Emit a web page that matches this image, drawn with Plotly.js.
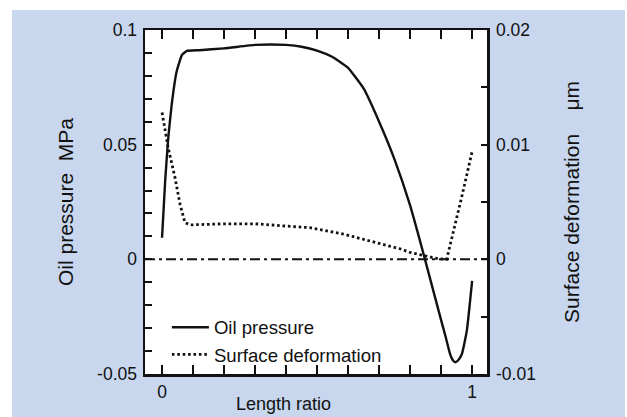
<!DOCTYPE html>
<html>
<head>
<meta charset="utf-8">
<script src="https://cdn.plot.ly/plotly-3.0.1.min.js"></script>
<style>html,body{margin:0;padding:0;background:#fff;}</style>
</head>
<body>
<div id="chart" style="width:627px;height:417px;"></div>
<script>
// Oil pressure (MPa, left axis) vs length ratio
const oilX = [0, 0.01, 0.02, 0.031, 0.047, 0.064, 0.08, 0.12, 0.2, 0.3, 0.35, 0.4, 0.45, 0.5, 0.55, 0.6, 0.65, 0.7, 0.75, 0.8, 0.848, 0.897, 0.915, 0.929, 0.938, 0.946, 0.955, 0.967, 0.983, 1.0];
const oilY = [0.0094, 0.0341, 0.0529, 0.0674, 0.0819, 0.0891, 0.0909, 0.0912, 0.092, 0.0935, 0.0937, 0.0935, 0.0927, 0.091, 0.0882, 0.0835, 0.0745, 0.06, 0.0435, 0.0235, 0, -0.025, -0.034, -0.0413, -0.044, -0.0449, -0.044, -0.0413, -0.0311, -0.0094];
// Surface deformation (um, right axis) vs length ratio
const defX = [0, 0.02, 0.042, 0.058, 0.074, 0.09, 0.2, 0.3, 0.4, 0.477, 0.585, 0.692, 0.77, 0.8, 0.85, 0.89, 0.918, 0.945, 0.967, 1.0];
const defY = [0.0128, 0.0097, 0.0071, 0.0048, 0.0032, 0.003, 0.0031, 0.0031, 0.0029, 0.00276, 0.0022, 0.00145, 0.0009, 0.0006, 0.0003, 0.00005, 0, 0.0029, 0.0055, 0.0094];
// Tick labels
const xTickVals = [0, 1];
const xTickText = ['0', '1'];
const yTickVals = [-0.05, 0, 0.05, 0.1];
const yTickText = ['-0.05', '0', '0.05', '0.1'];
const y2TickVals = [-0.01, 0, 0.01, 0.02];
const y2TickText = ['-0.01', '0', '0.01', '0.02'];
const seriesNames = ['Oil pressure', 'Surface deformation'];

const FONT = '"Liberation Sans", Arial, Helvetica, sans-serif';
const INK = '#111';

const traces = [
  {x: oilX, y: oilY, name: seriesNames[0], type: 'scatter', mode: 'lines', yaxis: 'y',
   line: {color: INK, width: 2.4, shape: 'spline', smoothing: 0.35}},
  {x: defX, y: defY, name: seriesNames[1], type: 'scatter', mode: 'lines', yaxis: 'y2',
   line: {color: INK, width: 2.8, dash: '2.6px,2.8px'}}
];

const axisCommon = {
  showgrid: false, zeroline: false, showline: true, linecolor: INK, linewidth: 2.5,
  ticks: 'inside', ticklen: 7, tickwidth: 2, tickcolor: INK,
  tickfont: {family: FONT, size: 17.5, color: INK}, tickmode: 'array'
};

const layout = {
  width: 627, height: 417,
  margin: {l: 145, r: 140, t: 30, b: 43},
  paper_bgcolor: '#c8d7ee', plot_bgcolor: '#ffffff',
  font: {family: FONT, color: INK},
  showlegend: true,
  legend: {x: 0.064, y: 0.19, xanchor: 'left', yanchor: 'top', bgcolor: 'rgba(0,0,0,0)',
           font: {family: FONT, size: 18.6, color: INK}, tracegroupgap: 0,
           itemwidth: 37},
  xaxis: Object.assign({}, axisCommon, {
    range: [-0.055, 1.048], tickvals: xTickVals, ticktext: xTickText, mirror: 'allticks',
    ticklen: 9,
    minor: {tickmode: 'linear', tick0: 0, dtick: 0.1, ticks: 'inside', ticklen: 5, tickwidth: 2, tickcolor: INK}
  }),
  yaxis: Object.assign({}, axisCommon, {
    range: [-0.05, 0.1], tickvals: yTickVals, ticktext: yTickText, ticklabelstandoff: 2,
    minor: {tickmode: 'linear', tick0: 0, dtick: 0.01, ticks: 'inside', ticklen: 7, tickwidth: 2, tickcolor: INK},
    title: {text: 'Oil pressure\u00a0\u00a0MPa', font: {family: FONT, size: 21, color: INK}, standoff: 18}
  }),
  yaxis2: Object.assign({}, axisCommon, {
    overlaying: 'y', side: 'right', range: [-0.01, 0.02], tickvals: y2TickVals, ticktext: y2TickText,
    ticklen: 6, ticklabelstandoff: 3,
    minor: {tickmode: 'linear', tick0: 0, dtick: 0.005, ticks: 'inside', ticklen: 6, tickwidth: 2, tickcolor: INK},
    title: {text: 'Surface deformation\u00a0\u00a0\u00a0\u00a0\u03bcm', font: {family: FONT, size: 21, color: INK}, standoff: 30}
  }),
  annotations: [
    {text: 'Length ratio', xref: 'paper', yref: 'paper', x: (283 - 145) / 342, y: (374 - 404) / 344,
     xanchor: 'center', yanchor: 'middle', showarrow: false, font: {family: FONT, size: 18, color: INK}}
  ],
  shapes: [
    // dash-dot reference line at zero
    {type: 'line', xref: 'paper', x0: 0, x1: 1, yref: 'y', y0: 0, y1: 0, layer: 'above',
     line: {color: INK, width: 2, dash: '10px,4px,3px,4px'}},
    // white page border strips outside the blue panel
    {type: 'rect', xref: 'paper', yref: 'paper', x0: -1, x1: 2, y0: (374 - 10) / 344, y1: 2,
     fillcolor: '#ffffff', line: {width: 0}, layer: 'below'},
    {type: 'rect', xref: 'paper', yref: 'paper', x0: -1, x1: (12 - 145) / 342, y0: -1, y1: 2,
     fillcolor: '#ffffff', line: {width: 0}, layer: 'below'},
    {type: 'rect', xref: 'paper', yref: 'paper', x0: (625 - 145) / 342, x1: 2, y0: -1, y1: 2,
     fillcolor: '#ffffff', line: {width: 0}, layer: 'below'}
  ]
};

Plotly.newPlot('chart', traces, layout, {staticPlot: true, displayModeBar: false});
</script>
</body>
</html>
